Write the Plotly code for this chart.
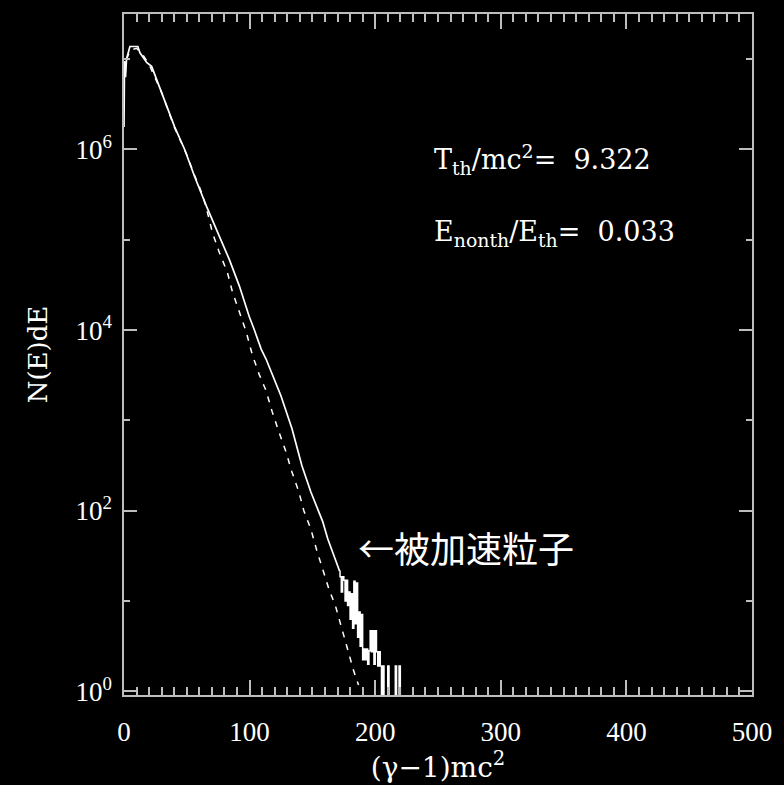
import plotly.graph_objects as go

# ---- data ----
solid_E = [0, 0.4, 1.2, 2.0, 4.7, 11.0, 12.7, 18.2, 22.0, 30.0, 40.3, 48.3, 56.2, 65.7,
           74.4, 83.9, 91.8, 99.7, 103.6, 109.2, 113.1, 125.0, 133.7, 141.6, 148.7,
           155.1, 158.2, 162.2, 167.7, 171.7]
solid_log10N = [6.25, 6.98, 6.80, 7.00, 7.14, 7.14, 7.07, 6.96, 6.92, 6.63, 6.25, 6.00,
                5.70, 5.37, 5.08, 4.78, 4.49, 4.15, 4.01, 3.79, 3.68, 3.27, 2.91, 2.50,
                2.21, 1.99, 1.88, 1.69, 1.47, 1.33]

tail_E = list(range(172, 222))
tail_log10N = [1.27, 1.10, 1.27, 1.23, 1.00, 1.23, 0.95, 1.10, 0.80, 1.08,
               0.70, 1.22, 0.75, 1.20, 0.60, 0.88, 0.50, 0.85, 0.35, 0.47,
               0.35, 0.47, 0.30, 0.45, 0.67, 0.44, 0.67, 0.30, 0.67, 0.44,
               0.28, 0.44, 0.28, -1, 0.28, -1, -1, -1, 0.28, -1,
               -1, -1, -1, -1, 0.28, -1, -1, 0.28, -1, -1]

fit_E = [2, 5, 10, 15, 20, 30, 40, 50, 56, 62.5, 66.5, 70.4, 75.9, 82.3, 86.2, 91.8,
         97.3, 102.1, 107.6, 113.1, 117.9, 123.4, 129.0, 133.7, 139.2, 143.2, 148.7,
         153.5, 157.4, 163.0, 168.5, 173.3, 178.8, 182.8, 186.7]
fit_log10N = [7.00, 7.10, 7.12, 7.05, 6.94, 6.63, 6.25, 5.94, 5.72, 5.50, 5.30,
              5.08, 4.86, 4.64, 4.43, 4.20, 3.98, 3.73, 3.51, 3.33, 3.10, 2.87, 2.65,
              2.43, 2.21, 2.00, 1.80, 1.56, 1.38, 1.14, 0.94, 0.70, 0.45, 0.23, 0.07]

x_tickvals = [0, 100, 200, 300, 400, 500]
y_tickvals = [1, 1e2, 1e4, 1e6]
y_ticktext = ["10<sup>0</sup>", "10<sup>2</sup>", "10<sup>4</sup>", "10<sup>6</sup>"]
y_minorvals = [10, 1e3, 1e5, 1e7]

T_th = "9.322"
E_ratio = "0.033"

fig = go.Figure()
fig.add_trace(go.Scatter(x=fit_E, y=[10 ** v for v in fit_log10N], mode="lines",
                         line=dict(color="white", width=1.5, dash="6px,7px"),
                         showlegend=False))
fig.add_trace(go.Scatter(x=solid_E, y=[10 ** v for v in solid_log10N], mode="lines",
                         line=dict(color="white", width=1.7), showlegend=False))
fig.add_trace(go.Scatter(x=[solid_E[-1]] + tail_E,
                         y=[10 ** solid_log10N[-1]] + [10 ** v for v in tail_log10N],
                         mode="lines", line=dict(color="white", width=1.5, shape="hv"),
                         showlegend=False))

axcol = "#bdbdbd"
font = "Liberation Serif"
font2 = "DejaVu Serif"
fig.update_layout(
    width=784, height=785,
    paper_bgcolor="black", plot_bgcolor="black",
    margin=dict(l=124, r=28, t=14, b=87),
    font=dict(family=font, color="white", size=27),
    xaxis=dict(range=[0, 500], tickvals=x_tickvals, ticks="inside", ticklen=15,
               tickwidth=1.5, tickcolor=axcol, showline=True, linecolor=axcol,
               linewidth=1.5, mirror="ticks", showgrid=False, zeroline=False,
               ticklabelstandoff=12,
               minor=dict(dtick=10, ticks="inside", ticklen=8, tickwidth=1.5,
                          tickcolor=axcol, showgrid=False),
               title=dict(text="(γ−1)mc<sup>2</sup>", standoff=6,
                          font=dict(family=font2, size=28))),
    yaxis=dict(type="log", range=[-0.04, 7.5], tickvals=y_tickvals, ticktext=y_ticktext,
               ticks="inside", ticklen=13, tickwidth=1.5, tickcolor=axcol,
               showline=True, linecolor=axcol, linewidth=1.5, mirror="ticks",
               showgrid=False, zeroline=False, ticklabelstandoff=5,
               minor=dict(tickvals=y_minorvals, ticks="inside", ticklen=6, tickwidth=1.5,
                          tickcolor=axcol, showgrid=False),
               title=dict(text="N(E)dE", standoff=20,
                          font=dict(family=font2, size=26))),
)

fig.add_annotation(x=0.49, y=0.787, xref="paper", yref="paper", xanchor="left",
                   yanchor="middle", showarrow=False,
                   text="T<sub>th</sub>/mc<sup>2</sup>=&nbsp;&nbsp;" + T_th,
                   font=dict(family=font2, size=27, color="white"))
fig.add_annotation(x=0.49, y=0.678, xref="paper", yref="paper", xanchor="left",
                   yanchor="middle", showarrow=False,
                   text="E<sub>nonth</sub>/E<sub>th</sub>=&nbsp;&nbsp;" + E_ratio,
                   font=dict(family=font2, size=27, color="white"))
fig.add_annotation(x=0.37, y=0.218, xref="paper", yref="paper", xanchor="left",
                   yanchor="middle", showarrow=False, text="←被加速粒子",
                   font=dict(family="Noto Sans CJK JP", size=36, color="white"))

fig.write_html("out.html")
